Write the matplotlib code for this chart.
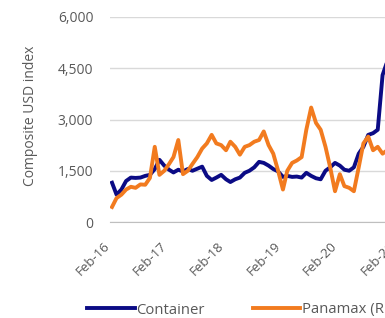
import numpy as np
import pandas as pd
import matplotlib
matplotlib.use("Agg")
import matplotlib.pyplot as plt
import matplotlib.dates as mdates

plt.rcParams['font.family'] = ['Open Sans', 'DejaVu Sans']

# monthly readings, Feb-16 onwards
dates = pd.date_range('2016-02-01', periods=59, freq='MS')
container = [1150, 800, 950, 1200, 1300, 1290, 1300, 1350, 1380, 1550,
             1820, 1650, 1530, 1450, 1530, 1480, 1550, 1500, 1560, 1620,
             1350, 1230, 1300, 1380, 1250, 1170, 1250, 1300, 1440, 1500,
             1600, 1760, 1730, 1650, 1550, 1480, 1320, 1350, 1320, 1330,
             1300, 1440, 1350, 1280, 1250, 1500, 1600, 1730, 1650, 1530,
             1500, 1600, 2000, 2200, 2550, 2600, 2700, 4300, 4700]
panamax = [440, 700, 800, 950, 1030, 1000, 1100, 1090, 1290, 2200,
           1380, 1500, 1700, 1900, 2400, 1400, 1500, 1700, 1900, 2150,
           2300, 2550, 2300, 2250, 2100, 2350, 2200, 1970, 2200, 2250,
           2350, 2400, 2650, 2250, 2000, 1500, 950, 1500, 1730, 1800,
           1900, 2700, 3350, 2900, 2700, 2200, 1600, 900, 1400, 1050,
           1000, 900, 1600, 2300, 2500, 2100, 2200, 2000, 2100]
yticks = [0, 1500, 3000, 4500, 6000]
xticks = pd.date_range('2016-02-01', periods=6, freq='12MS')

blue = '#0b0b85'
orange = '#f27b1f'
grey = '#595959'

fig = plt.figure(figsize=(3.85, 3.18), dpi=100)
ax = fig.add_axes([110/385, 1 - 222/318, 339/385, 205/318])

ax.plot(dates, container, color=blue, lw=2.8, label='Container', zorder=3)
ax.plot(dates, panamax, color=orange, lw=2.8, label='Panamax (RHS)', zorder=4)

ax.set_ylim(0, 6000)
ax.set_yticks(yticks)
ax.set_yticklabels([f'{v:,}' for v in yticks])
ax.set_xlim(mdates.date2num(pd.Timestamp('2016-01-19')),
            mdates.date2num(pd.Timestamp('2022-01-01')))
ax.set_xticks(xticks)
ax.xaxis.set_major_formatter(mdates.DateFormatter('%b-%y'))
for lab in ax.get_xticklabels():
    lab.set_rotation(45)
    lab.set_ha('right')

ax.grid(axis='y', color='#d9d9d9', lw=1)
ax.set_axisbelow(True)
for s in ['top', 'right', 'left']:
    ax.spines[s].set_visible(False)
ax.spines['bottom'].set_color('#bfbfbf')
ax.tick_params(axis='both', length=0, colors=grey)
ax.tick_params(axis='y', pad=12, labelsize=10)
ax.tick_params(axis='x', pad=12.5, labelsize=9.5)

ax.set_ylabel('Composite USD index', fontsize=10, color=grey)
ax.yaxis.set_label_coords(-72/339, 0.52)

fig.legend(loc='center left', bbox_to_anchor=(80/385, 1 - 310/318),
           ncol=2, frameon=False, borderpad=0, handlelength=3.2,
           handletextpad=0.1, columnspacing=3.2, fontsize=10.7,
           labelcolor=grey)

fig.savefig('out.png', dpi=100)
